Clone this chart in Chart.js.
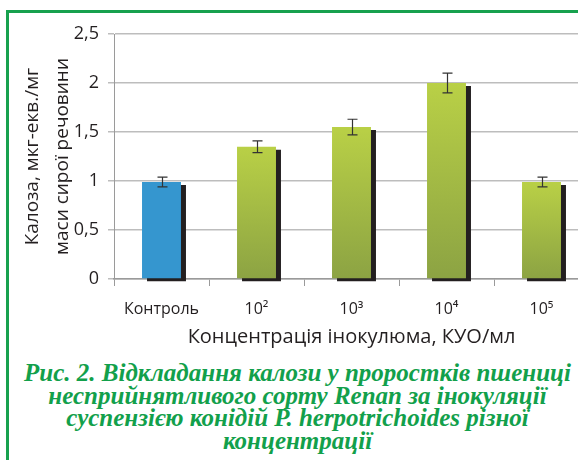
<!DOCTYPE html>
<html>
<head>
<meta charset="utf-8">
<script src="https://cdn.jsdelivr.net/npm/chart.js@4.4.0/dist/chart.umd.min.js"></script>
<style>
  html, body { margin: 0; padding: 0; background: #fff; overflow: hidden; width: 578px; height: 460px; }
  #frame { position: absolute; left: 6px; top: 10px; width: 620px; height: 470px;
           border-left: 3px solid #17a14e; border-top: 3px solid #17a14e; }
  #wrap { position: absolute; left: 0; top: 0; width: 600px; height: 350px; }
  #caption { position: absolute; left: 0; width: 595px; top: 362px; text-align: center;
             font: italic bold 25px/22.5px "Liberation Serif", serif; color: #12a04b; white-space: nowrap; }
</style>
</head>
<body>
<div id="frame"></div>
<div id="wrap"><canvas id="chart" width="600" height="350"></canvas></div>
<div id="caption">Рис. 2. Відкладання калози у проростків пшениці<br>несприйнятливого сорту Renan за інокуляції<br>суспензією конідій P. herpotrichoides різної<br>концентрації</div>

<script>
/* ---- data ---- */
const categories = ["Контроль", "10²", "10³", "10⁴", "10⁵"];
const callose = [0.99, 1.35, 1.55, 2.0, 0.99];
const errors = [0.05, 0.06, 0.08, 0.1, 0.05];
const yTickLabels = ["0", "0,5", "1", "1,5", "2", "2,5"];
const yTitle = ["Калоза, мкг-екв./мг", "маси сирої речовини"];
const xTitle = "Концентрація інокулюма, КУО/мл";

const FONT = "'Open Sans', sans-serif";
const INK = "#231f20";

/* blue control bar, green gradient for the rest */
function barFill(c) {
  if (c.dataIndex === 0) return "#3596cf";
  const chart = c.chart;
  const y = chart.scales.y;
  if (!y || c.raw == null) return "#a6bd45";
  const top = y.getPixelForValue(c.raw);
  const base = y.getPixelForValue(0);
  if (!isFinite(top) || !isFinite(base)) return "#a6bd45";
  const g = chart.ctx.createLinearGradient(0, top, 0, base);
  g.addColorStop(0, "#b9d046");
  g.addColorStop(1, "#8ca343");
  return g;
}

/* hard drop shadow under bars + error bars on top */
const barExtras = {
  id: "barExtras",
  beforeDatasetsDraw(chart) {
    const ctx = chart.ctx;
    ctx.save();
    ctx.shadowColor = INK;
    ctx.shadowOffsetX = 5;
    ctx.shadowOffsetY = 3;
    ctx.shadowBlur = 0;
  },
  afterDatasetsDraw(chart) {
    const ctx = chart.ctx;
    ctx.restore();
    const y = chart.scales.y;
    const meta = chart.getDatasetMeta(0);
    ctx.save();
    ctx.strokeStyle = "#333";
    ctx.lineWidth = 1.2;
    meta.data.forEach((bar, i) => {
      const hi = y.getPixelForValue(callose[i] + errors[i]);
      const lo = y.getPixelForValue(callose[i] - errors[i]);
      const x = Math.round(bar.x) + 0.5;
      ctx.beginPath();
      ctx.moveTo(x, hi); ctx.lineTo(x, lo);
      ctx.moveTo(x - 5, hi); ctx.lineTo(x + 5, hi);
      ctx.moveTo(x - 5, lo); ctx.lineTo(x + 5, lo);
      ctx.stroke();
    });
    ctx.restore();
  }
};

new Chart(document.getElementById("chart"), {
  type: "bar",
  data: {
    labels: categories,
    datasets: [{
      data: callose,
      backgroundColor: barFill,
      borderWidth: 0,
      barPercentage: 0.41,
      categoryPercentage: 1,
      clip: false
    }]
  },
  options: {
    responsive: false,
    animation: false,
    layout: { padding: { left: 0, right: 11, top: 34, bottom: 0 } },
    plugins: { legend: { display: false }, tooltip: { enabled: false } },
    scales: {
      x: {
        grid: { drawOnChartArea: false, tickLength: 7, color: "#9a9a9a", lineWidth: 1 },
        border: { color: "#9a9a9a", width: 1.5 },
        ticks: { color: INK, font: { family: FONT, size: 16 }, padding: 14, maxRotation: 0, autoSkip: false },
        title: { display: true, text: xTitle, color: INK, font: { family: FONT, size: 20 },
                 padding: { top: 0, bottom: 1 } },
        afterFit(s) { s.height = 71; }
      },
      y: {
        min: 0, max: 2.5,
        grid: { color: "#bdbdbd", lineWidth: 1.5, tickLength: 6 },
        border: { color: "#9a9a9a", width: 1 },
        ticks: { stepSize: 0.5, padding: 9, color: INK, font: { family: FONT, size: 18 },
                 callback: (v, i) => yTickLabels[i] },
        title: { display: true, text: yTitle, color: INK,
                 font: { family: FONT, size: 19, lineHeight: 1.6 },
                 padding: { top: 17, bottom: 0 } },
        afterFit(s) { s.width = 114; }
      }
    }
  },
  plugins: [barExtras]
});
</script>
</body>
</html>
